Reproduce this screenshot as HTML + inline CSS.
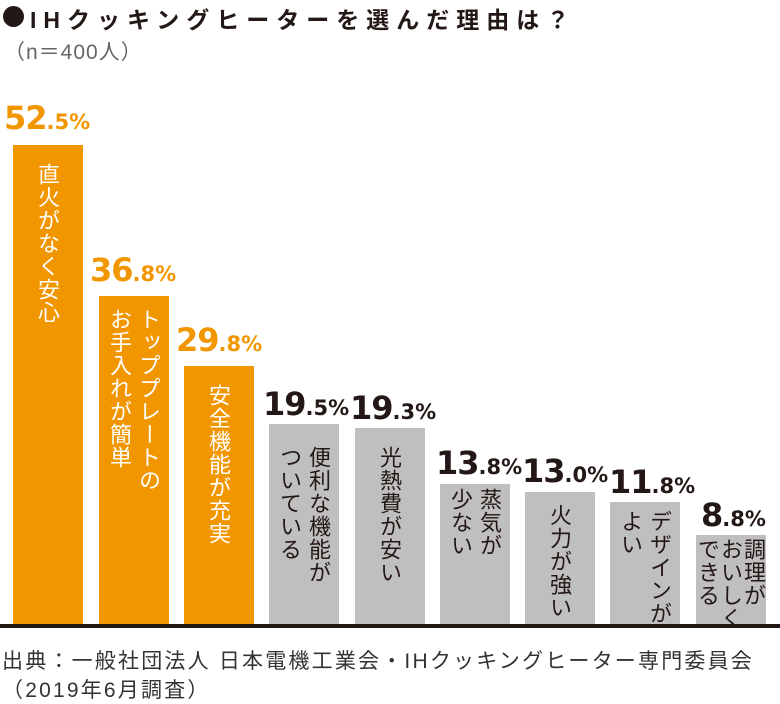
<!DOCTYPE html>
<html><head><meta charset="utf-8"><style>
body{margin:0;width:780px;height:703px;background:#fff;position:relative;overflow:hidden;font-family:"Liberation Sans","Noto Sans CJK JP",sans-serif;color:#231815}
.t{position:absolute;left:30px;top:1px;font-size:23px;font-weight:bold;letter-spacing:7px;white-space:nowrap}
.dot{position:absolute;left:3px;top:6px;width:21px;height:21px;border-radius:50%;background:#231815}
.s{position:absolute;left:4px;top:36px;font-size:21px;color:#666;white-space:nowrap;letter-spacing:1px}
.b{position:absolute;bottom:78px;width:70px}
.o{background:#f29600}.g{background:#bfbfbf}
.v{position:absolute;writing-mode:vertical-rl;font-size:22px;line-height:29px;white-space:nowrap;letter-spacing:1px}
.o .v{color:#fff;font-size:22px}
.n{position:absolute;font-family:"DejaVu Sans",sans-serif;font-weight:bold;font-size:32px;letter-spacing:-1px;white-space:nowrap;line-height:30px}
.n small{font-size:21px;letter-spacing:0}
.n.or{color:#f29600}
.base{position:absolute;left:0;width:780px;top:624px;height:4px;background:#231815}
.f{position:absolute;left:2px;font-size:21px;color:#333;white-space:nowrap;letter-spacing:2.2px}
</style></head><body>
<div class="dot"></div>
<div class="t">IHクッキングヒーターを選んだ理由は？</div>
<div class="s">（n＝400人）</div>

<div class="n or" style="left:4px;top:103px">52<small>.5%</small></div>
<div class="b o" style="left:13px;top:145px"><div class="v" style="left:20px;top:18px">直火がなく安心</div></div>

<div class="n or" style="left:90px;top:255px">36<small>.8%</small></div>
<div class="b o" style="left:99px;top:296px"><div class="v" style="left:6px;top:12px">トッププレートの<br>お手入れが簡単</div></div>

<div class="n or" style="left:176px;top:325px">29<small>.8%</small></div>
<div class="b o" style="left:184px;top:366px"><div class="v" style="left:20px;top:18px">安全機能が充実</div></div>

<div class="n" style="left:263px;top:389px">19<small>.5%</small></div>
<div class="b g" style="left:269px;top:424px"><div class="v" style="left:6px;top:22px">便利な機能が<br>ついている</div></div>

<div class="n" style="left:350px;top:393px">19<small>.3%</small></div>
<div class="b g" style="left:355px;top:428px"><div class="v" style="left:20px;top:18px">光熱費が安い</div></div>

<div class="n" style="left:436px;top:448px">13<small>.8%</small></div>
<div class="b g" style="left:440px;top:484px"><div class="v" style="left:6px;top:4px">蒸気が<br>少ない</div></div>

<div class="n" style="left:522px;top:456px">13<small>.0%</small></div>
<div class="b g" style="left:525px;top:492px"><div class="v" style="left:20px;top:12px">火力が強い</div></div>

<div class="n" style="left:609px;top:467px">11<small>.8%</small></div>
<div class="b g" style="left:610px;top:502px"><div class="v" style="left:6px;top:8px">デザインが<br>よい</div></div>

<div class="n" style="left:701px;top:500px">8<small>.8%</small></div>
<div class="b g" style="left:696px;top:535px"><div class="v" style="left:0px;top:3px;line-height:23px">調理が<br>おいしく<br>できる</div></div>

<div class="base"></div>
<div class="f" style="top:645px">出典：一般社団法人 日本電機工業会・IHクッキングヒーター専門委員会</div>
<div class="f" style="top:674px">（2019年6月調査）</div>
</body></html>
